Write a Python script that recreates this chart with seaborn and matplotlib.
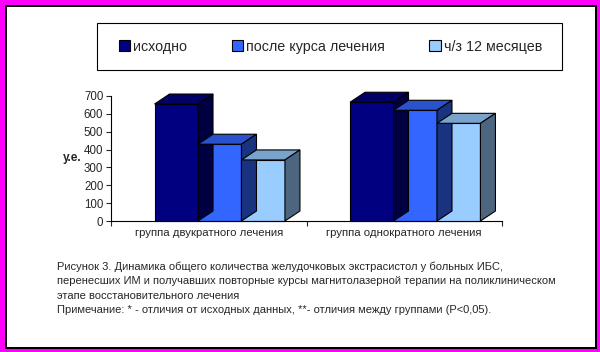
import numpy as np
import pandas as pd
import matplotlib
matplotlib.use("Agg")
import matplotlib.pyplot as plt
import matplotlib.patches as mpatches
from matplotlib.transforms import IdentityTransform
import seaborn as sns

# ---- data ----
categories = ["группа двукратного лечения", "группа однократного лечения"]
series = ["исходно", "после курса лечения", "ч/з 12 месяцев"]
v_initial = [655, 665]
v_after = [430, 620]
v_12m = [342, 547]
y_ticks = [0, 100, 200, 300, 400, 500, 600, 700]
y_label = "у.е."
caption_lines = [
    "Рисунок 3. Динамика общего количества желудочковых экстрасистол у больных ИБС,",
    "перенесших ИМ и получавших повторные курсы магнитолазерной терапии на поликлиническом",
    "этапе восстановительного лечения",
    "Примечание: * - отличия от исходных данных, **- отличия между группами (P<0,05).",
]

front_colors = ["#000080", "#3366FF", "#99CCFF"]
top_colors = ["#000066", "#2952CC", "#7AA3CC"]
side_colors = ["#000040", "#1A3380", "#4D6680"]

df = pd.DataFrame({
    "group": categories * 3,
    "series": [s for s in series for _ in categories],
    "value": v_initial + v_after + v_12m,
})

sns.set_style("white")
plt.rcParams["font.family"] = ["Liberation Sans", "DejaVu Sans"]

W, H, DPI = 600, 352, 100
fig = plt.figure(figsize=(W / DPI, H / DPI), dpi=DPI)
fig.patch.set_facecolor("#FF00FF")
fig.add_artist(mpatches.Rectangle((6 / W, 4 / H), 590 / W, 342 / H, transform=fig.transFigure,
                                  facecolor="white", edgecolor="black", linewidth=1.44, zorder=0))

ax = fig.add_axes([111 / W, 1 - 221 / H, 391 / W, 125 / H])
ax.set_facecolor("none")
sns.barplot(data=df, x="group", y="value", hue="series", hue_order=series, order=categories,
            palette=front_colors, saturation=1, width=0.667, gap=0, edgecolor="black",
            linewidth=0.8, legend=False, ax=ax, errorbar=None)
ax.set_xlim(-0.5, 1.5)
ax.set_ylim(0, 700)
ax.set_yticks(y_ticks)
ax.tick_params(axis="y", labelsize=8.3, length=3.5, width=0.8, direction="out", left=True, pad=2)
ax.set_xticks([0, 1])
ax.set_xticklabels(categories, fontsize=8.2)
ax.set_xticks([-0.5, 0.5, 1.5], minor=True)
ax.tick_params(axis="x", which="major", length=0, pad=5)
ax.tick_params(axis="x", which="minor", length=3.5, width=0.8, bottom=True, direction="out")
ax.set_xlabel("")
ax.set_ylabel(y_label, rotation=0, fontsize=8.5, fontweight="bold", ha="center", va="center")
ax.yaxis.set_label_coords(-0.0997, 0.504)
for s in ["top", "right"]:
    ax.spines[s].set_visible(False)
for s in ["left", "bottom"]:
    ax.spines[s].set_color("black")
    ax.spines[s].set_linewidth(0.8)

# pseudo-3D faces derived from the drawn bars
fig.canvas.draw()
px_per_x = ax.transData.transform((1, 0))[0] - ax.transData.transform((0, 0))[0]
shift = 11 / px_per_x
dx, dy = 15, 10
bars = sorted(ax.patches, key=lambda p: p.get_x())
for i, p in enumerate(bars):
    p.set_x(p.get_x() + shift)
    k = i % len(series)
    z = 2 + i * 0.1
    p.set_zorder(z + 0.05)
    p.set_clip_on(False)
    x0, y0 = ax.transData.transform((p.get_x(), 0))
    x1, y1 = ax.transData.transform((p.get_x() + p.get_width(), p.get_height()))
    top = mpatches.Polygon([(x0, y1), (x1, y1), (x1 + dx, y1 + dy), (x0 + dx, y1 + dy)],
                           closed=True, transform=IdentityTransform(), facecolor=top_colors[k],
                           edgecolor="black", linewidth=0.8, zorder=z, clip_on=False)
    side = mpatches.Polygon([(x1, y0), (x1, y1), (x1 + dx, y1 + dy), (x1 + dx, y0 + dy)],
                            closed=True, transform=IdentityTransform(), facecolor=side_colors[k],
                            edgecolor="black", linewidth=0.8, zorder=z, clip_on=False)
    fig.add_artist(top)
    fig.add_artist(side)

# legend
handles = [mpatches.Patch(facecolor=c, edgecolor="black", linewidth=0.8) for c in front_colors]
fig.add_artist(mpatches.Rectangle((97 / W, 1 - 70 / H), 465 / W, 47 / H, transform=fig.transFigure,
                                  facecolor="white", edgecolor="black", linewidth=0.8, zorder=1))
leg = fig.legend(handles, series, ncol=3, loc="center", mode="expand",
                 bbox_to_anchor=(119 / W, 1 - 70 / H, 423 / W, 47 / H),
                 frameon=False, borderpad=0, borderaxespad=0, fontsize=10.3,
                 handlelength=0.8, handleheight=0.8, handletextpad=0.2)
leg.set_zorder(3)

for j, line in enumerate(caption_lines):
    fig.text(57 / W, 1 - (270 + 14.4 * j) / H, line, fontsize=8.05, va="baseline", ha="left")

fig.savefig("out.png", dpi=DPI, facecolor=fig.get_facecolor())
